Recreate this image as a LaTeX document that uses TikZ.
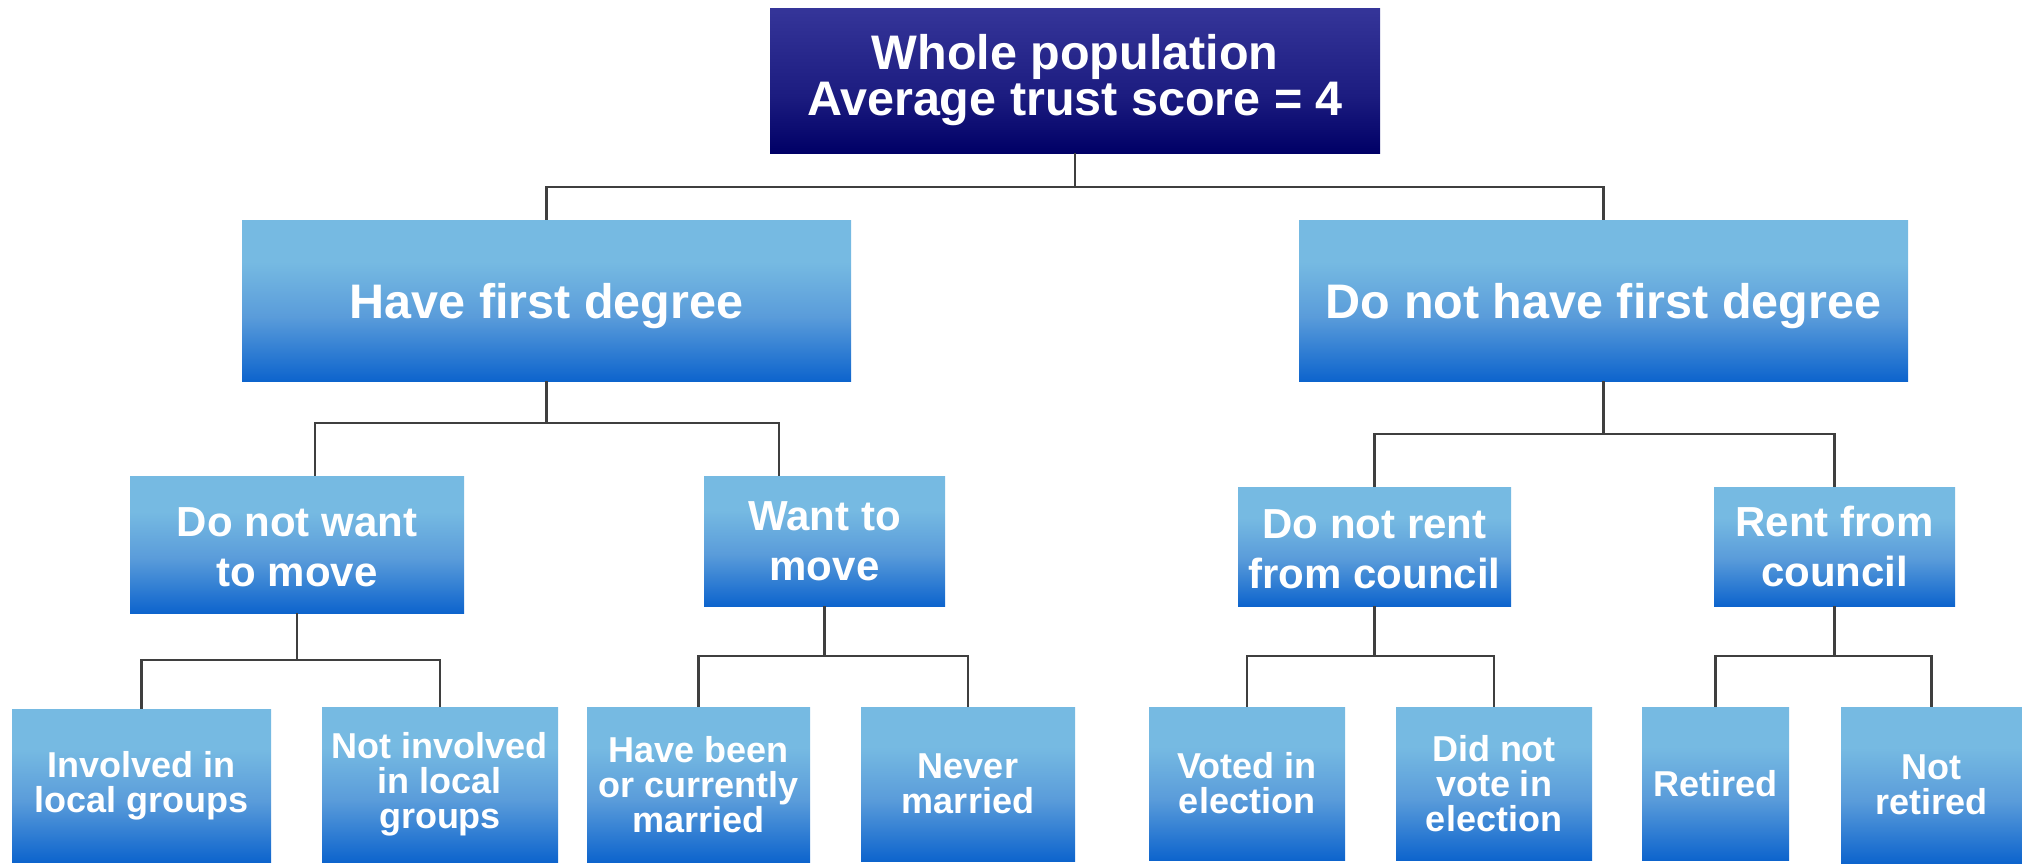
\documentclass[tikz,border=0pt]{standalone}
\usepackage{fontspec}
\setmainfont{Liberation Sans}
\usepackage{tikz}

\definecolor{navytop}{HTML}{353599}
\definecolor{navymid}{HTML}{1C1C80}
\definecolor{navybot}{HTML}{000066}
\definecolor{skytop}{HTML}{76BAE2}
\definecolor{skymid}{HTML}{5A9CDA}
\definecolor{skybot}{HTML}{0D64CD}
\definecolor{linkgrey}{HTML}{3F3F3F}

\pgfdeclareverticalshading{rootshade}{100bp}{color(0bp)=(navybot); color(25bp)=(navybot); color(45bp)=(navymid); color(75bp)=(navytop); color(100bp)=(navytop)}
\pgfdeclareverticalshading{boxshade}{100bp}{color(0bp)=(skybot); color(25bp)=(skybot); color(45bp)=(skymid); color(62bp)=(skytop); color(75bp)=(skytop); color(100bp)=(skytop)}

\tikzset{
  rootbox/.style={shading=rootshade, text=white, align=center, inner sep=0pt,
    font=\bfseries\fontsize{48.5}{46}\selectfont},
  topbox/.style={shading=boxshade, text=white, align=center, inner sep=0pt,
    text depth=0pt, font=\bfseries\fontsize{48.5}{46}\selectfont},
  midbox/.style={shading=boxshade, text=white, align=center, inner sep=0pt,
    font=\bfseries\fontsize{42}{50}\selectfont},
  leafbox/.style={shading=boxshade, text=white, align=center, inner sep=0pt,
    font=\bfseries\fontsize{36}{35}\selectfont},
  link/.style={draw=linkgrey, line width=2.5pt}
}

\begin{document}
\begin{tikzpicture}[x=1pt,y=-1pt]
\useasboundingbox (0,0) rectangle (2022,865);

% root
\node[rootbox, minimum width=610pt, minimum height=145pt] (root) at (1075,80.5) {Whole population\\Average trust score = 4};

% first split
\node[topbox, minimum width=609pt, minimum height=161pt] (hfd) at (546.5,300.5) {Have first degree};
\node[topbox, minimum width=609pt, minimum height=161pt] (dnh) at (1603.5,300.5) {Do not have first degree};

% second split
\node[midbox, minimum width=334pt, minimum height=137pt] (dnw) at (297,544.5) {\strut Do not want\\to move};
\node[midbox, minimum width=241pt, minimum height=130pt] (wtm) at (824.5,541) {Want to\\move};
\node[midbox, minimum width=273pt, minimum height=119pt] (dnr) at (1374.5,546.5) {\strut Do not rent\\from council};
\node[midbox, minimum width=241pt, minimum height=119pt] (rfc) at (1834.5,546.5) {Rent from\\council};

% leaves
\node[leafbox, minimum width=259pt, minimum height=153pt] (inv) at (141.5,785.5) {Involved in\\local groups};
\node[leafbox, minimum width=236pt, minimum height=155pt] (ninv) at (440,784.5) {Not involved\\in local\\groups};
\node[leafbox, minimum width=223pt, minimum height=155pt] (hbm) at (698.5,784.5) {Have been\\or currently\\married};
\node[leafbox, minimum width=214pt, minimum height=154pt] (nev) at (968,784) {Never\\married};
\node[leafbox, minimum width=196pt, minimum height=153pt] (vot) at (1247,783.5) {Voted in\\election};
\node[leafbox, minimum width=196pt, minimum height=153pt] (dnv) at (1494,783.5) {Did not\\vote in\\election};
\node[leafbox, minimum width=147pt, minimum height=153pt] (ret) at (1715.5,783.5) {Retired};
\node[leafbox, minimum width=181pt, minimum height=156pt] (nret) at (1931.5,785) {Not\\retired};

% connectors
\draw[link] (root.south) -- ++(0,34) -| (hfd.north);
\draw[link] (root.south) -- ++(0,34) -| (dnh.north);
\draw[link] (hfd.south) -- ++(0,42) -| ([xshift=18pt]dnw.north);
\draw[link] (hfd.south) -- ++(0,42) -| ([xshift=-45.5pt]wtm.north);
\draw[link] (dnh.south) -- ++(0,53) -| (dnr.north);
\draw[link] (dnh.south) -- ++(0,53) -| (rfc.north);
\draw[link] (dnw.south) -- ++(0,47) -| (inv.north);
\draw[link] (dnw.south) -- ++(0,47) -| (ninv.north);
\draw[link] (wtm.south) -- ++(0,50) -| (hbm.north);
\draw[link] (wtm.south) -- ++(0,50) -| (nev.north);
\draw[link] (dnr.south) -- ++(0,50) -| (vot.north);
\draw[link] (dnr.south) -- ++(0,50) -| (dnv.north);
\draw[link] (rfc.south) -- ++(0,50) -| (ret.north);
\draw[link] (rfc.south) -- ++(0,50) -| (nret.north);
\end{tikzpicture}
\end{document}
